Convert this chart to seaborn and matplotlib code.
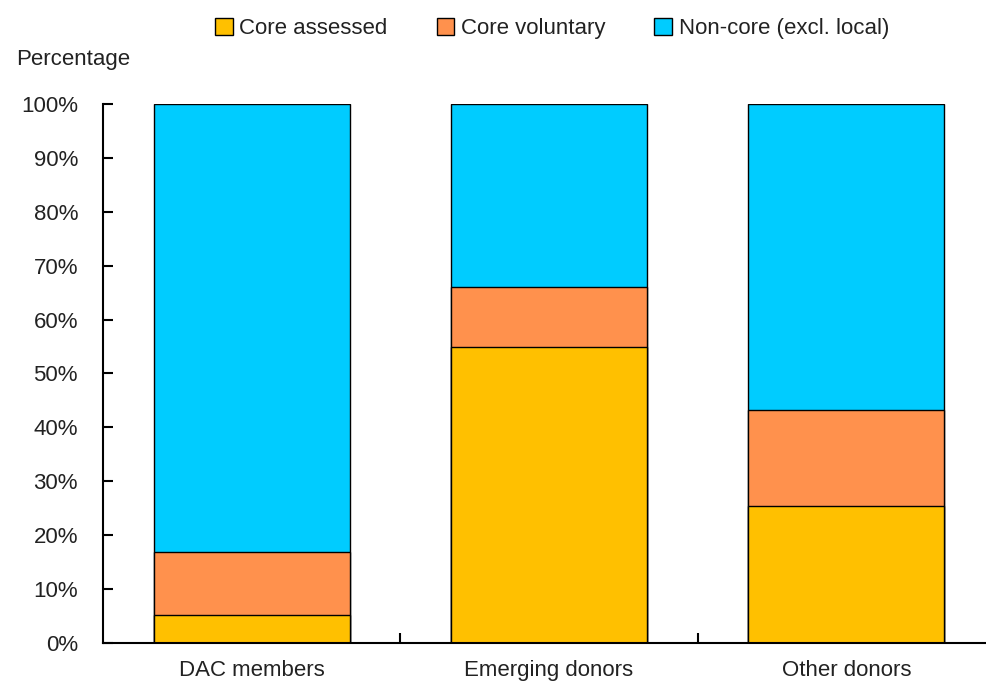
import matplotlib
matplotlib.use("Agg")
import matplotlib.pyplot as plt
import seaborn as sns
import pandas as pd
import numpy as np
from matplotlib.patches import Patch
from matplotlib import font_manager

categories = ["DAC members", "Emerging donors", "Other donors"]
core_assessed = [5.2, 55.0, 25.4]
core_voluntary = [11.7, 11.0, 17.8]
non_core = [83.1, 34.0, 56.8]
series_names = ["Core assessed", "Core voluntary", "Non-core (excl. local)"]
colors = ["#FFC000", "#FF914D", "#00CCFF"]
yticks = list(range(0, 101, 10))

sns.set_theme(style="white")
names = {f.name for f in font_manager.fontManager.ttflist}
fam = "Liberation Sans Narrow" if "Liberation Sans Narrow" in names else "Liberation Sans"
plt.rcParams["font.family"] = [fam, "DejaVu Sans"]

df = pd.DataFrame({
    "cat": categories,
    "a": core_assessed,
    "v": core_voluntary,
    "n": non_core,
})
df["top1"] = df["a"]
df["top2"] = df["a"] + df["v"]
df["top3"] = df["a"] + df["v"] + df["n"]

fig = plt.figure(figsize=(9.86, 6.84), dpi=100)
ax = fig.add_axes([0.1045, 0.06, 0.8955, 0.788])

for col, c in zip(["top3", "top2", "top1"], [colors[2], colors[1], colors[0]]):
    sns.barplot(data=df, x="cat", y=col, color=c, ax=ax, width=0.66,
                edgecolor="black", linewidth=1.0, saturation=1)

ax.set_xlim(-0.5, 2.47)
ax.set_ylim(0, 100)
ax.set_yticks(yticks)
ax.set_yticklabels([f"{t}%" for t in yticks], fontsize=16, color="#222222")
ax.set_xlabel("")
ax.set_ylabel("")
ax.set_xticks([0, 1, 2])
ax.set_xticklabels(categories)
ax.set_xticks([0.5, 1.5], minor=True)
ax.tick_params(axis="x", which="major", bottom=True, length=0, labelsize=16,
               labelcolor="#222222", pad=12)
ax.tick_params(axis="x", which="minor", bottom=True, direction="in", length=7,
               width=1.5, color="black")
ax.tick_params(axis="y", which="major", left=True, direction="in", length=7,
               width=1.5, color="black", pad=18)
for s in ["top", "right"]:
    ax.spines[s].set_visible(False)
for s in ["left", "bottom"]:
    ax.spines[s].set_color("black")
    ax.spines[s].set_linewidth(1.5)

handles = [Patch(facecolor=c, edgecolor="black", linewidth=1) for c in colors]
fig.legend(handles, series_names, loc="center", bbox_to_anchor=(0.56, 0.958), ncol=3,
           frameon=False, fontsize=16, handlelength=0.8, handleheight=0.8,
           handletextpad=0.3, columnspacing=2.2, labelcolor="#222222")
fig.text(0.016, 0.913, "Percentage", fontsize=16, color="#222222", ha="left", va="center")

fig.savefig("out.png", dpi=100)
